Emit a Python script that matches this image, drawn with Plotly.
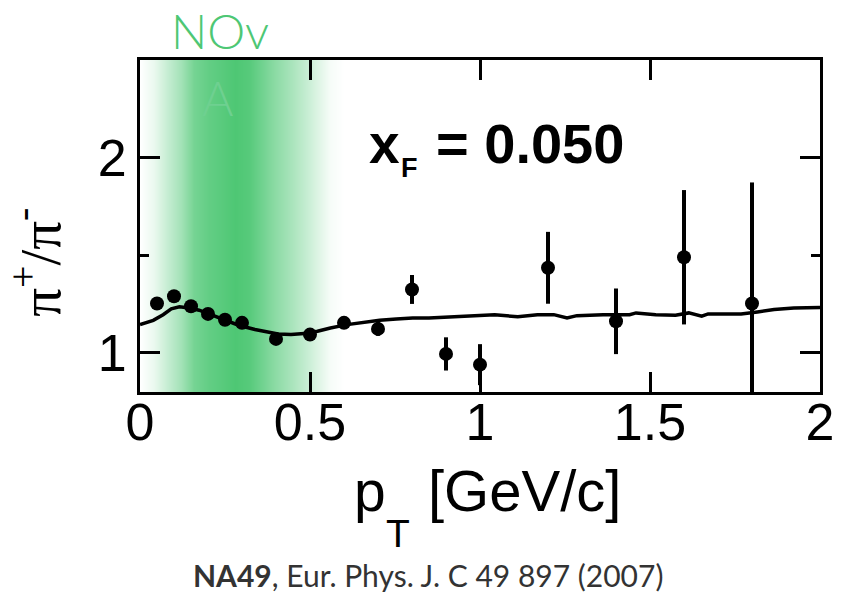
import plotly.graph_objects as go

# NA49 pi+/pi- ratio vs transverse momentum at xF = 0.050
pt = [0.05, 0.10, 0.15, 0.20, 0.25, 0.30, 0.40, 0.50, 0.60, 0.70,
      0.80, 0.90, 1.00, 1.20, 1.40, 1.60, 1.80]
ratio = [1.253, 1.290, 1.239, 1.200, 1.170, 1.154, 1.072, 1.094, 1.154, 1.123,
         1.325, 0.995, 0.940, 1.436, 1.162, 1.490, 1.253]
ratio_err = [0.015, 0.015, 0.015, 0.015, 0.015, 0.015, 0.015, 0.015, 0.020, 0.035,
             0.074, 0.085, 0.105, 0.184, 0.168, 0.344, 0.620]

# Model prediction curve
curve_pt = [0.0, 0.039, 0.068, 0.092, 0.116, 0.145, 0.174, 0.203, 0.242, 0.29,
            0.338, 0.367, 0.406, 0.444, 0.483, 0.522, 0.56, 0.609, 0.657, 0.705,
            0.754, 0.802, 0.85, 0.899, 0.947, 0.995, 1.043, 1.111, 1.169, 1.217,
            1.256, 1.285, 1.362, 1.44, 1.459, 1.517, 1.575, 1.614, 1.652, 1.671,
            1.768, 1.816, 1.865, 1.923, 2.0]
curve_ratio = [1.145, 1.167, 1.196, 1.226, 1.236, 1.230, 1.219, 1.200, 1.174, 1.142,
               1.120, 1.111, 1.097, 1.095, 1.099, 1.111, 1.128, 1.145, 1.157, 1.167,
               1.174, 1.179, 1.179, 1.183, 1.188, 1.193, 1.196, 1.185, 1.196, 1.196,
               1.179, 1.191, 1.196, 1.196, 1.205, 1.196, 1.193, 1.205, 1.188, 1.200,
               1.200, 1.210, 1.222, 1.230, 1.233]

# NOvA pT coverage highlight (relative intensity across pT)
band_pt = [0.00, 0.04, 0.08, 0.12, 0.16, 0.20, 0.24, 0.28, 0.32, 0.36,
           0.40, 0.44, 0.48, 0.52, 0.56, 0.60]
band_level = [0.0, 0.12, 0.32, 0.52, 0.78, 0.88, 0.94, 1.00, 0.95, 0.80,
              0.64, 0.50, 0.36, 0.20, 0.05, 0.0]

x_ticks = [0, 0.5, 1, 1.5, 2]
x_tick_text = ["0", "0.5", "1", "1.5", "2"]
y_ticks = [1, 2]
y_tick_text = ["1", "2"]
y_minor_ticks = [1.5, 2.5]

GREEN = "#4EC774"
SANS = "Liberation Sans, Arial, sans-serif"
TICK_FONT = dict(family=SANS, size=52, color="black")

fig = go.Figure()

fig.add_trace(go.Heatmap(
    x=band_pt, y=[0.7, 2.6], z=[band_level, band_level],
    zmin=0, zmax=1, zsmooth="best",
    colorscale=[[0, "white"], [1, GREEN]],
    showscale=False, hoverinfo="skip",
))

fig.add_trace(go.Scatter(
    x=curve_pt, y=curve_ratio, mode="lines",
    line=dict(color="black", width=3.5), hoverinfo="skip",
))

fig.add_trace(go.Scatter(
    x=pt, y=ratio, mode="markers",
    marker=dict(color="black", size=14),
    error_y=dict(type="data", array=ratio_err, color="black", thickness=4, width=0),
))

axis_common = dict(
    showline=True, linewidth=3, linecolor="black", mirror="ticks",
    ticks="inside", ticklen=20, tickwidth=3, tickcolor="black",
    showgrid=False, zeroline=False, tickfont=TICK_FONT,
)

fig.update_xaxes(range=[0, 2], tickvals=x_ticks, ticktext=x_tick_text,
                 ticklabelstandoff=-17, **axis_common)
fig.update_yaxes(
    range=[0.8, 2.5], tickvals=y_ticks, ticktext=y_tick_text,
    minor=dict(tickvals=y_minor_ticks, ticks="inside", ticklen=9, tickwidth=3, tickcolor="black"),
    **axis_common,
)


def label(text, x, y, size, xref="x", yref="paper", xanchor="center",
          family=SANS, color="black", weight="normal", angle=0):
    return dict(text=text, x=x, xref=xref, y=y, yref=yref, showarrow=False,
                xanchor=xanchor, yanchor="middle", textangle=angle,
                font=dict(family=family, size=size, color=color, weight=weight))


annotations = [
    # NOvA tag, split over the top edge of the frame
    label("NOv", 0.235, 1.09, 48, family="Lato, sans-serif", color=GREEN, weight=300),
    label("A", 0.229, 0.887, 48, family="Lato, sans-serif", color="#6ED090", weight=300),
    # xF = 0.050
    label("x", 0.6667, 0.747, 55, xanchor="left", weight="bold"),
    label("F", 0.7623, 0.675, 27, xanchor="left", weight="bold"),
    label("= 0.050", 0.8638, 0.747, 56, xanchor="left", weight="bold"),
    # y-axis title
    label("π<sup>+</sup>/π<sup>-</sup>", -0.154, 0.39, 57, xref="paper",
          family="Liberation Serif, serif", angle=-90),
    # x-axis title
    label("p", 0.675, -0.298, 57),
    label("T", 0.759, -0.425, 39),
    label("[GeV/c]", 1.130, -0.298, 58),
    # reference
    label("<b>NA49</b>, Eur. Phys. J. C 49 897 (2007)", 0.423, -0.55, 30,
          xref="paper", family="Lato, sans-serif", color="#333333"),
]

fig.update_layout(
    width=846, height=594,
    margin=dict(l=140, r=16, t=60, b=202),
    paper_bgcolor="white", plot_bgcolor="white",
    showlegend=False,
    annotations=annotations,
)

fig.write_html("out.html")
